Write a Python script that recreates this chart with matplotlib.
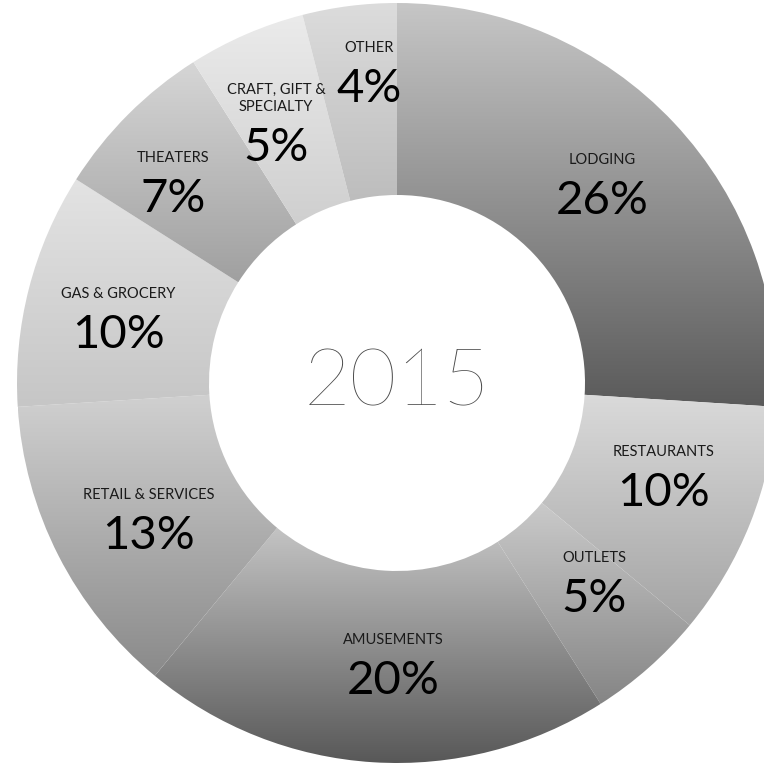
import numpy as np
import matplotlib.pyplot as plt
from matplotlib.colors import to_rgb

# Data: share of spending by category, 2015
categories = ['LODGING', 'RESTAURANTS', 'OUTLETS', 'AMUSEMENTS', 'RETAIL & SERVICES',
              'GAS & GROCERY', 'THEATERS', 'CRAFT, GIFT &\nSPECIALTY', 'OTHER']
shares = [26, 10, 5, 20, 13, 10, 7, 5, 4]
year = '2015'

# gradient colours per slice (top, bottom)
top_colors = ['#c6c6c6', '#dadada', '#cacaca', '#c4c4c4', '#d0d0d0',
              '#e3e3e3', '#d6d6d6', '#ebebeb', '#dcdcdc']
bottom_colors = ['#5a5a5a', '#a4a4a4', '#858585', '#585858', '#8a8a8a',
                 '#c6c6c6', '#a0a0a0', '#cfcfcf', '#bdbdbd']

# label placement: radius (px) and angle tweak (deg) per slice
lab_r = [288, 281, 277, 277, 281, 287, 304, 283, 316]
lab_dtheta = [1.5, 3.2, 3.9, 2.8, 1.0, 0.4, 2.5, 1.9, -2.2]

W, H = 764, 769
cx, cy = 397, H - 383
R, width = 380, 192

fig = plt.figure(figsize=(W / 100, H / 100), dpi=100)
ax = fig.add_axes([0, 0, 1, 1])

wedges, _ = ax.pie(shares, radius=R, center=(cx, cy), startangle=90,
                   counterclock=False, frame=False,
                   wedgeprops=dict(width=width, edgecolor='none'))

for w, c0, c1 in zip(wedges, top_colors, bottom_colors):
    w.set_facecolor('none')
    bb = w.get_path().get_extents()
    t = np.linspace(0, 1, 256)[:, None, None]
    grad = (1 - t) * np.array(to_rgb(c0)) + t * np.array(to_rgb(c1))
    im = ax.imshow(grad, extent=(bb.x0, bb.x1, bb.y0, bb.y1), origin='upper',
                   aspect='auto', interpolation='bilinear', zorder=1)
    im.set_clip_path(w)

# labels
for w, name, val, r, dt in zip(wedges, categories, shares, lab_r, lab_dtheta):
    mid = np.deg2rad((w.theta1 + w.theta2) / 2 + dt)
    x = cx + r * np.cos(mid)
    y = cy + r * np.sin(mid)
    ax.text(x, y + 13, name, ha='center', va='bottom', fontsize=10.5,
            family='Lato', color='#1a1a1a', linespacing=1.3, zorder=3)
    ax.text(x, y - 21, f'{val}%', ha='center', va='center', fontsize=34,
            family='Lato', color='#000000', zorder=3)

ax.text(cx, cy, year, ha='center', va='center', fontsize=58,
        family='Lato', fontweight=200, color='#4a4a4a', zorder=3)

ax.set_xlim(0, W)
ax.set_ylim(0, H)
ax.set_aspect('equal')
ax.axis('off')

plt.savefig('out.png', dpi=100)
